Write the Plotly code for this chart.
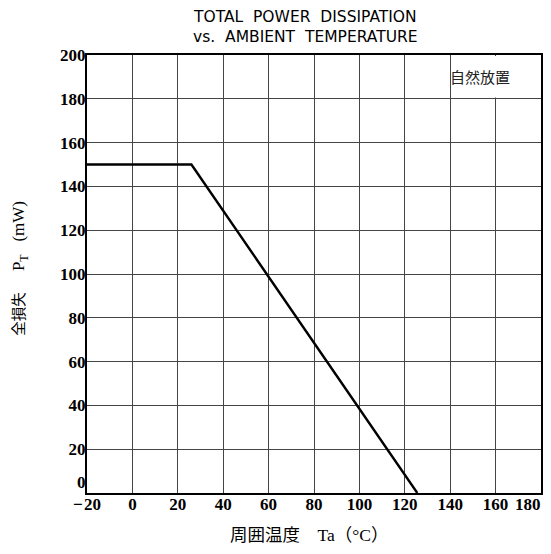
import plotly.graph_objects as go

# Data
temp_c = [-20, 26, 125.5]
power_mw = [150, 150, 0]

NB = "\u00a0"
x_tickvals = [-20, 0, 20, 40, 60, 80, 100, 120, 140, 160]
x_ticktext = ["\u2212\u200a20", "0", "20", "40", "60", "80", "100", "120", "140", "160"]
x_last_tick = 180
y_tickvals = [0, 20, 40, 60, 80, 100, 120, 140, 160, 180, 200]
y_ticktext = ["0<br>" + NB] + [str(v) for v in y_tickvals[1:]]

fig = go.Figure()
fig.add_trace(go.Scatter(
    x=temp_c, y=power_mw, mode="lines",
    line=dict(color="black", width=2.4),
    hoverinfo="skip", showlegend=False,
))

tick_font = dict(family="Liberation Serif", size=17, color="black", weight="bold")

fig.update_xaxes(
    range=[-20, 180], tickvals=x_tickvals, ticktext=x_ticktext,
    showgrid=True, gridcolor="#444444", gridwidth=1,
    showline=True, linecolor="black", linewidth=2, mirror=True,
    zeroline=False, ticks="", tickfont=tick_font, ticklabelstandoff=-5,
    automargin=False,
)
fig.update_yaxes(
    range=[0, 200], tickvals=y_tickvals, ticktext=y_ticktext,
    showgrid=True, gridcolor="#444444", gridwidth=1,
    showline=True, linecolor="black", linewidth=2, mirror=True,
    zeroline=False, ticks="", tickfont=tick_font, ticklabelstandoff=-4,
    automargin=False,
)

# last x tick label, kept inside the page edge
fig.add_annotation(x=x_last_tick, y=0, xref="x", yref="paper", xanchor="right", yanchor="middle",
                   xshift=2, yshift=-11, text=str(x_last_tick), showarrow=False, font=tick_font)

# white cell that hides the grid behind the note
fig.add_shape(type="rect", xref="x", yref="y", x0=140.6, x1=179.6, y0=180.6, y1=199.6,
              fillcolor="white", line=dict(width=0), layer="above")

fig.add_annotation(x=153, y=190, xref="x", yref="y", text="自然放置", showarrow=False,
                   font=dict(family="Noto Sans CJK JP", size=15, color="#222222"))

fig.add_annotation(
    x=0.482, y=1.0, xref="paper", yref="paper", xanchor="center", yanchor="middle", yshift=28,
    text=f"TOTAL{NB}{NB}POWER{NB}{NB}DISSIPATION<br>vs.{NB}{NB}AMBIENT{NB}{NB}TEMPERATURE",
    showarrow=False, font=dict(family="DejaVu Sans", size=15.5, color="black"),
)

fig.add_annotation(
    x=-0.1476, y=0.514, xref="paper", yref="paper", xanchor="center", yanchor="middle",
    textangle=-90,
    text=(f"<span style='font-size:14.5px'>全損失</span>{NB * 5}P<sub>T</sub>{NB * 3}(mW)"),
    showarrow=False, font=dict(family="Liberation Serif, Noto Sans CJK JP", size=17, color="black"),
)
fig.add_annotation(
    x=0.489, y=0, xref="paper", yref="paper", xanchor="center", yanchor="middle", yshift=-42,
    text=f"周囲温度{NB * 4}Ta（°C）",
    showarrow=False, font=dict(family="Liberation Serif, Noto Sans CJK JP", size=17.5, color="black"),
)

fig.update_layout(
    width=535, height=538,
    margin=dict(l=79, r=2, t=47, b=53),
    paper_bgcolor="white", plot_bgcolor="white",
    showlegend=False,
)

fig.write_html("out.html")
